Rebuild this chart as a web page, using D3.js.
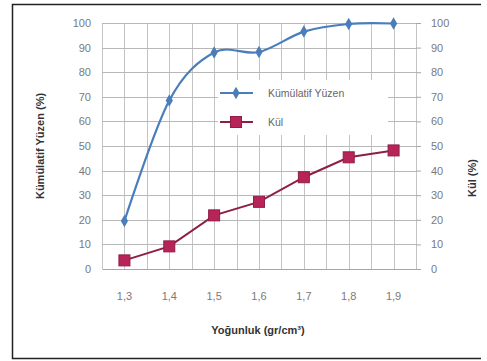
<!DOCTYPE html>
<html>
<head>
<meta charset="utf-8">
<script src="https://cdn.jsdelivr.net/npm/d3@7"></script>
<style>
  body { margin: 0; background: #fff; }
  svg text { font-family: "Liberation Sans", Arial, sans-serif; }
</style>
</head>
<body>
<div id="chart"></div>
<script>
const categories = ["1,3", "1,4", "1,5", "1,6", "1,7", "1,8", "1,9"];
const kumulatifYuzen = [19.5, 68.5, 88, 88.2, 96.5, 99.6, 99.8];
const kul = [3.5, 9.2, 21.8, 27.3, 37.3, 45.4, 48.2];
const yTicks = [0, 10, 20, 30, 40, 50, 60, 70, 80, 90, 100];

const w = 487, h = 361;
const plotLeft = 102, plotRight = 416, plotTop = 23, plotBottom = 269;

const svg = d3.select("#chart").append("svg")
    .attr("width", w)
    .attr("height", h);

svg.append("rect").attr("width", w).attr("height", h).attr("fill", "#fff");

// outer frame
svg.append("path")
    .attr("d", "M481,4.5 H12.5 V358.5 H481")
    .attr("fill", "none")
    .attr("stroke", "#222")
    .attr("stroke-width", 1.5);

const xScale = d3.scaleBand().domain(categories).range([plotLeft, plotRight]);
const bw = xScale.bandwidth();
const cx = c => xScale(c) + bw / 2;
const yScale = d3.scaleLinear().domain([0, 100]).range([plotBottom, plotTop]);

// grid
const vLines = [];
categories.forEach(c => { vLines.push(xScale(c)); vLines.push(cx(c)); });
vLines.push(plotRight);
svg.append("g").selectAll("line").data(vLines).enter().append("line")
    .attr("x1", d => Math.round(d) + 0.5).attr("x2", d => Math.round(d) + 0.5)
    .attr("y1", plotTop).attr("y2", plotBottom)
    .attr("stroke", "#c4c4c4");
svg.append("g").selectAll("line").data(yTicks.slice(1)).enter().append("line")
    .attr("x1", plotLeft).attr("x2", plotRight)
    .attr("y1", d => Math.round(yScale(d)) + 0.5).attr("y2", d => Math.round(yScale(d)) + 0.5)
    .attr("stroke", "#b8b8b8");

// axes
const yAxisL = svg.append("g")
    .attr("transform", `translate(${plotLeft},0)`)
    .call(d3.axisLeft(yScale).tickValues(yTicks).tickSize(0).tickPadding(11));
const yAxisR = svg.append("g")
    .attr("transform", `translate(${plotRight},0)`)
    .call(d3.axisRight(yScale).tickValues(yTicks).tickSize(5).tickPadding(10));
const xAxis = svg.append("g")
    .attr("transform", `translate(0,${plotBottom})`)
    .call(d3.axisBottom(xScale).tickSize(0).tickPadding(23));

[yAxisL, yAxisR, xAxis].forEach(g => {
    g.select(".domain").attr("stroke", "#a6a6a6");
    g.selectAll(".tick line").attr("stroke", "#a6a6a6");
    g.selectAll("text").attr("fill", "#7a7a7a").attr("font-size", 11)
        .attr("font-family", "'Liberation Sans', Arial, sans-serif");
});
yAxisL.select(".domain").remove();
yAxisR.select(".domain").remove();

// titles
svg.append("text")
    .attr("transform", "translate(44,146) rotate(-90)")
    .attr("text-anchor", "middle")
    .attr("font-size", 11).attr("font-weight", "bold").attr("fill", "#333")
    .text("Kümülatif Yüzen (%)");
svg.append("text")
    .attr("transform", "translate(476,178) rotate(-90)")
    .attr("text-anchor", "middle")
    .attr("font-size", 11).attr("font-weight", "bold").attr("fill", "#333")
    .text("Kül (%)");
svg.append("text")
    .attr("x", 258).attr("y", 334)
    .attr("text-anchor", "middle")
    .attr("font-size", 11).attr("font-weight", "bold").attr("fill", "#333")
    .text("Yoğunluk (gr/cm³)");

// series
const blue = "#4a7ebb";
const red = "#8e1e44";
const redFill = "#b8235a";
const smoothLine = d3.line()
    .x((d, i) => cx(categories[i]))
    .y(d => yScale(d))
    .curve(d3.curveCardinal.tension(0));
const straightLine = d3.line()
    .x((d, i) => cx(categories[i]))
    .y(d => yScale(d));

svg.append("path").datum(kul)
    .attr("d", straightLine).attr("fill", "none")
    .attr("stroke", red).attr("stroke-width", 2);
svg.append("g").selectAll("rect").data(kul).enter().append("rect")
    .attr("x", (d, i) => cx(categories[i]) - 5.5)
    .attr("y", d => yScale(d) - 5.5)
    .attr("width", 11).attr("height", 11)
    .attr("fill", redFill).attr("stroke", red);

svg.append("path").datum(kumulatifYuzen)
    .attr("d", smoothLine).attr("fill", "none")
    .attr("stroke", blue).attr("stroke-width", 2.2);
const diamond = d3.symbol().type(d3.symbolDiamond).size(45);
svg.append("g").selectAll("path").data(kumulatifYuzen).enter().append("path")
    .attr("d", diamond)
    .attr("transform", (d, i) => `translate(${cx(categories[i])},${yScale(d)})`)
    .attr("fill", blue);

// legend
const lg = svg.append("g");
lg.append("rect").attr("x", 218).attr("y", 80).attr("width", 170).attr("height", 55).attr("fill", "#fff");
lg.append("line").attr("x1", 220).attr("x2", 253).attr("y1", 93).attr("y2", 93)
    .attr("stroke", blue).attr("stroke-width", 2.2);
lg.append("path").attr("d", diamond).attr("transform", "translate(236,93)").attr("fill", blue);
lg.append("text").attr("x", 268).attr("y", 97).attr("font-size", 10.5).attr("fill", "#666")
    .text("Kümülatif Yüzen");
lg.append("line").attr("x1", 220).attr("x2", 253).attr("y1", 122).attr("y2", 122)
    .attr("stroke", red).attr("stroke-width", 2);
lg.append("rect").attr("x", 230.5).attr("y", 116.5).attr("width", 11).attr("height", 11)
    .attr("fill", redFill).attr("stroke", red);
lg.append("text").attr("x", 268).attr("y", 126).attr("font-size", 10.5).attr("fill", "#666")
    .text("Kül");
</script>
</body>
</html>
